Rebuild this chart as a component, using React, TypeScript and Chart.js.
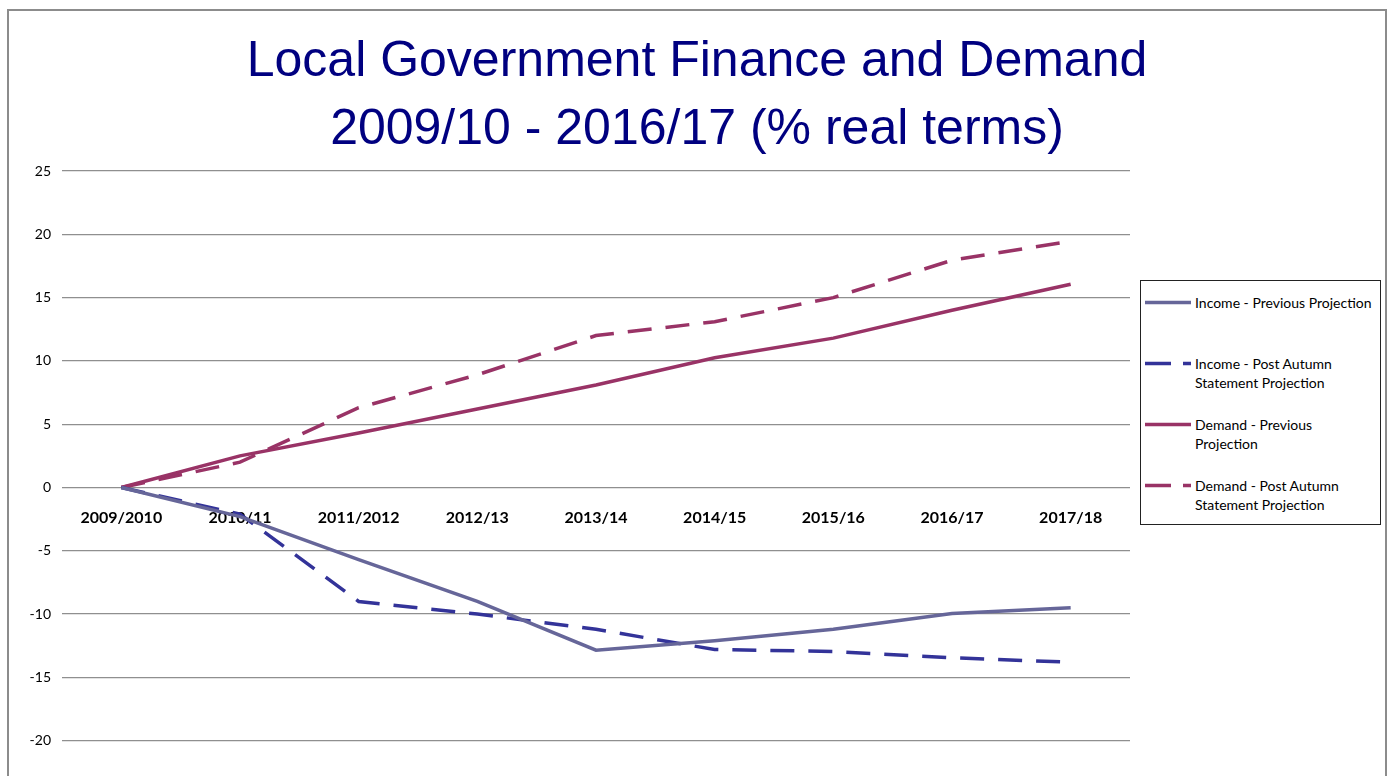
import React, { useEffect, useRef } from "react";
import { Chart, registerables } from "chart.js";

Chart.register(...registerables);

const categories = ["2009/2010", "2010/11", "2011/2012", "2012/13", "2013/14", "2014/15", "2015/16", "2016/17", "2017/18"];
const incomePrevious = [0, -2.3, -5.7, -9.0, -12.85, -12.1, -11.2, -9.95, -9.5];
const incomePostAutumn = [0, -2.1, -9.0, -10.0, -11.2, -12.8, -12.95, -13.45, -13.8];
const demandPrevious = [0, 2.5, 4.3, 6.2, 8.1, 10.25, 11.8, 14.0, 16.05];
const demandPostAutumn = [0, 2.0, 6.3, 8.9, 12.0, 13.1, 15.0, 17.95, 19.45];
const titleLines = ["Local Government Finance and Demand", "2009/10 - 2016/17 (% real terms)"];
const legendItems = [
  { lines: ["Income - Previous Projection"], color: "#666699", dashed: false },
  { lines: ["Income - Post Autumn", "Statement Projection"], color: "#333399", dashed: true },
  { lines: ["Demand - Previous", "Projection"], color: "#993366", dashed: false },
  { lines: ["Demand - Post Autumn", "Statement Projection"], color: "#993366", dashed: true },
];

const DASH = [24, 14];

export default function App() {
  const ref = useRef<HTMLCanvasElement | null>(null);

  useEffect(() => {
    if (!ref.current) return;
    const chart = new Chart(ref.current, {
      type: "line",
      data: {
        labels: categories,
        datasets: [
          { label: legendItems[0].lines.join(" "), data: incomePrevious, borderColor: "#666699", backgroundColor: "#666699", borderWidth: 3.5, pointRadius: 0, tension: 0 },
          { label: legendItems[1].lines.join(" "), data: incomePostAutumn, borderColor: "#333399", backgroundColor: "#333399", borderWidth: 3.5, borderDash: DASH, pointRadius: 0, tension: 0 },
          { label: legendItems[2].lines.join(" "), data: demandPrevious, borderColor: "#993366", backgroundColor: "#993366", borderWidth: 3.5, pointRadius: 0, tension: 0 },
          { label: legendItems[3].lines.join(" "), data: demandPostAutumn, borderColor: "#993366", backgroundColor: "#993366", borderWidth: 3.5, borderDash: DASH, pointRadius: 0, tension: 0 },
        ],
      },
      options: {
        responsive: false,
        animation: false,
        devicePixelRatio: 1,
        layout: { padding: { left: 0, right: 0, top: 0, bottom: 27 } },
        plugins: {
          legend: { display: false },
          tooltip: { enabled: false },
          title: {
            display: true,
            text: titleLines,
            color: "#000080",
            font: { family: "'Liberation Sans', Arial, sans-serif", size: 50, weight: "normal", lineHeight: 1.36 },
            padding: { top: 17, bottom: 7 },
          },
        },
        scales: {
          x: {
            type: "category",
            offset: true,
            position: { y: 0 } as any,
            grid: { display: false, drawTicks: false },
            border: { display: false },
            ticks: {
              color: "#000",
              font: { family: "Lato, 'Open Sans', sans-serif", size: 16, weight: "bold" },
              padding: 21,
              maxRotation: 0,
              autoSkip: false,
            },
          },
          y: {
            min: -25,
            max: 25,
            afterFit: (s: any) => { s.width = 53; },
            grid: { color: "#8f8f8f", lineWidth: 1.2, drawTicks: false },
            border: { display: false },
            ticks: {
              stepSize: 5,
              color: "#000",
              padding: 11,
              font: { family: "Lato, 'Open Sans', sans-serif", size: 14 },
            },
          },
          yRight: {
            type: "linear",
            position: "right",
            display: true,
            afterFit: (s: any) => { s.width = 255; },
            grid: { display: false, drawTicks: false },
            border: { display: false },
            ticks: { display: false },
          },
        },
      },
    });
    return () => chart.destroy();
  }, []);

  return (
    <div style={{ position: "fixed", left: 0, top: 0, width: 1388, height: 776, overflow: "hidden", background: "#fff" }}>
      <div style={{ position: "absolute", left: 7, top: 9, width: 1376, height: 900, border: "2px solid #8c8c8c" }}>
        <canvas ref={ref} width={1376} height={820} style={{ display: "block", width: 1376, height: 820 }} />
      </div>
      <div style={{ position: "absolute", left: 1140, top: 280, width: 241, height: 245, border: "1px solid #222", boxSizing: "border-box", background: "#fff", fontFamily: "Lato, 'Open Sans', sans-serif", fontSize: 14, color: "#000" }}>
        {legendItems.map((it, i) => (
          <div key={i} style={{ position: "absolute", left: 4, top: 12 + i * 61, display: "flex", alignItems: "flex-start" }}>
            <svg width={47} height={19} style={{ flex: "none", marginRight: 3 }}>
              <line x1={0} y1={9.5} x2={46} y2={9.5} stroke={it.color} strokeWidth={3.5} strokeDasharray={it.dashed ? "26 12" : undefined} />
            </svg>
            <div style={{ lineHeight: "19px", whiteSpace: "nowrap" }}>
              {it.lines.map((l, j) => <div key={j}>{l}</div>)}
            </div>
          </div>
        ))}
      </div>
    </div>
  );
}
